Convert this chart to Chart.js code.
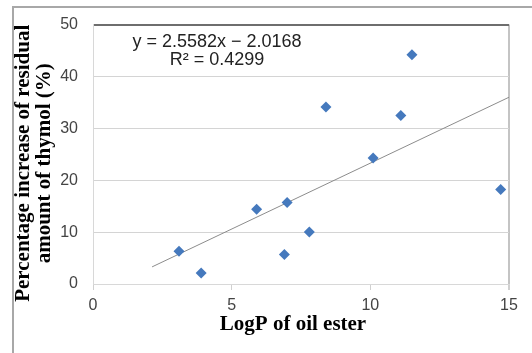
<!DOCTYPE html>
<html>
<head>
<meta charset="utf-8">
<script src="https://cdn.jsdelivr.net/npm/chart.js@4"></script>
<style>
  html, body { margin: 0; padding: 0; background: #fff; }
  #wrap { width: 532px; height: 353px; }
</style>
</head>
<body>
<div id="wrap"><canvas id="chart"></canvas></div>
<script>
// LogP of oil ester vs. percentage increase of residual thymol
const logP = [3.1, 3.9, 5.9, 6.9, 7.0, 7.8, 8.4, 10.1, 11.1, 11.5, 14.7];
const increase = [6.3, 2.1, 14.4, 5.7, 15.7, 10.0, 34.1, 24.3, 32.5, 44.2, 18.2];

// linear trendline ends
const trendX = [2.13, 15];
const trendY = [3.3, 36.0];

const equation = ['y = 2.5582x \u2212 2.0168', 'R\u00b2 = 0.4299'];
const xTitle = 'LogP of oil ester';
const yTitle = ['Percentage increase of residual', 'amount of thymol (%)'];

const xTicks = [0, 5, 10, 15];
const yTicks = [0, 10, 20, 30, 40, 50];

const serif = 'bold 21px "Liberation Serif", "Times New Roman", serif';

const frame = {
  id: 'frame',
  beforeDraw(chart) {
    const ctx = chart.ctx;
    ctx.save();
    ctx.fillStyle = '#fff';
    ctx.fillRect(0, 0, chart.width, chart.height);
    ctx.strokeStyle = '#a8a8a8';
    ctx.lineWidth = 2;
    ctx.strokeRect(13, 7, 560, 400);
    ctx.restore();
  },
  afterDraw(chart) {
    const ctx = chart.ctx;
    const area = chart.chartArea;
    ctx.save();
    // axis titles
    ctx.fillStyle = '#000';
    ctx.font = serif;
    ctx.textAlign = 'center';
    ctx.textBaseline = 'middle';
    ctx.fillText(xTitle, (area.left + area.right) / 2 - 8, 325);
    ctx.translate(0, (area.top + area.bottom) / 2 + 9);
    ctx.rotate(-Math.PI / 2);
    ctx.fillText(yTitle[0], 0, 24);
    ctx.fillText(yTitle[1], 0, 45);
    ctx.restore();

    // trendline label
    const x = chart.scales.x.getPixelForValue(4.47);
    const y = chart.scales.y.getPixelForValue(46.7);
    ctx.save();
    ctx.fillStyle = '#222';
    ctx.font = '18px "Liberation Sans", Arial, sans-serif';
    ctx.textAlign = 'center';
    ctx.textBaseline = 'middle';
    ctx.fillText(equation[0], x, y);
    ctx.fillText(equation[1], x, y + 18);
    ctx.restore();
  }
};

new Chart(document.getElementById('chart'), {
  type: 'scatter',
  data: {
    datasets: [{
      label: 'data',
      data: logP.map((v, i) => ({ x: v, y: increase[i] })),
      pointStyle: 'rectRot',
      pointRadius: 5.5,
      borderWidth: 0,
      backgroundColor: '#4579bd',
      borderColor: '#4579bd'
    }, {
      label: 'trend',
      type: 'line',
      data: trendX.map((v, i) => ({ x: v, y: trendY[i] })),
      borderColor: '#8c8c8c',
      borderWidth: 1,
      pointRadius: 0,
      fill: false
    }]
  },
  options: {
    responsive: true,
    maintainAspectRatio: false,
    animation: false,
    layout: { padding: { left: 13, top: 24, right: 23, bottom: 0 } },
    plugins: {
      legend: { display: false },
      tooltip: { enabled: false }
    },
    scales: {
      x: {
        type: 'linear',
        min: 0,
        max: 15,
        afterBuildTicks: s => { s.ticks = xTicks.map(v => ({ value: v })); },
        afterFit: s => { s.height = 69; },
        ticks: {
          padding: 6,
          color: '#444',
          font: { family: '"Liberation Sans", Arial', size: 16 }
        },
        grid: {
          color: c => (c.tick && (c.tick.value === 15) ? '#c4c4c4' : (c.tick && c.tick.value === 0 ? '#d8d8d8' : 'rgba(0,0,0,0)')),
          lineWidth: c => (c.tick && c.tick.value === 15 ? 2 : 1),
          tickColor: '#d0d0d0',
          tickLength: 6
        },
        border: { color: '#d8d8d8', width: 1 },
        title: { display: false }
      },
      y: {
        min: 0,
        max: 50,
        afterBuildTicks: s => { s.ticks = yTicks.map(v => ({ value: v })); },
        afterFit: s => { s.width = 80; },
        ticks: {
          padding: 15,
          color: '#444',
          font: { family: '"Liberation Sans", Arial', size: 16 }
        },
        grid: {
          color: c => (c.tick && c.tick.value === 50 ? '#6e6e6e' : '#d4d4d4'),
          lineWidth: c => (c.tick && c.tick.value === 50 ? 2 : 1),
          drawTicks: false
        },
        border: { color: '#d8d8d8', width: 1 },
        title: { display: false }
      }
    }
  },
  plugins: [frame]
});
</script>
</body>
</html>
